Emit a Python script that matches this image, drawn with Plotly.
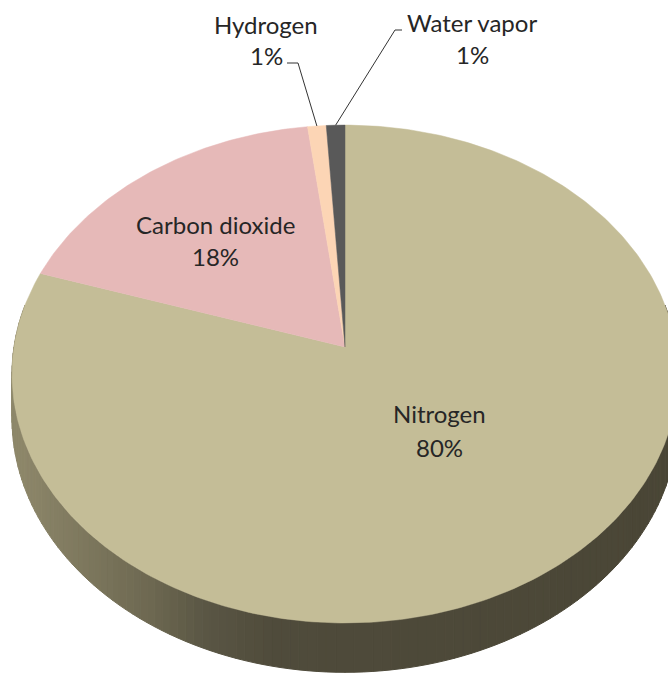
import numpy as np
import plotly.graph_objects as go

# ---- data -------------------------------------------------------------
gases = ["Nitrogen", "Carbon dioxide", "Hydrogen", "Water vapor"]
shares = [80, 18, 1, 1]
slice_colors = ["#C4BD97", "#E6B9B8", "#FCD5B5", "#595959"]

# ---- geometry of the tilted 3-D disc (page pixels) ---------------------
CX, CY = 345.0, 347.0      # projected centre of the top face
AX, BY = 331.0, 246.0      # horizontal radius / depth radius
K = 0.1086                 # perspective foreshortening of the far side
DEPTH = 44.0               # thickness of the disc

W, H = 668, 673


def project(phi, drop=0.0):
    """Angle measured clockwise from 12 o'clock -> page coordinates."""
    u = np.sin(phi)
    v = np.cos(phi)
    s = 1.0 / (1.0 + K * v)
    return CX + AX * u * s, CY - BY * v * s + drop * s


def hex_to_rgb(h):
    h = h.lstrip("#")
    return np.array([int(h[i:i + 2], 16) for i in (0, 2, 4)], float)


# shading of the rim, light on the left, dark on the right
RIM_STOPS = [(20, "#8d876a"), (150, "#6d6851"), (205, "#5a5644"),
             (275, "#4f4b3b"), (668, "#4a4636")]


def rim_color(x):
    xs = [p for p, _ in RIM_STOPS]
    cs = [hex_to_rgb(c) for _, c in RIM_STOPS]
    rgb = [np.interp(x, xs, [c[i] for c in cs]) for i in range(3)]
    return "rgb(%d,%d,%d)" % tuple(int(round(c)) for c in rgb)


fig = go.Figure()

# ---- rim (front side wall) -------------------------------------------
n_strips = 140
edges = np.linspace(np.radians(80), np.radians(280), n_strips + 1)
for a0, a1 in zip(edges[:-1], edges[1:]):
    x0, y0 = project(a0)
    x1, y1 = project(a1)
    x0b, y0b = project(a0, DEPTH)
    x1b, y1b = project(a1, DEPTH)
    col = rim_color((x0 + x1) / 2)
    fig.add_trace(go.Scatter(
        x=[x0, x1, x1b, x0b, x0], y=[y0, y1, y1b, y0b, y0],
        mode="lines", fill="toself", fillcolor=col,
        line=dict(color=col, width=1), hoverinfo="skip", showlegend=False))

# ---- top face slices ---------------------------------------------------
total = float(sum(shares))
cum = np.concatenate([[0.0], np.cumsum(shares)]) / total
for i, (name, col) in enumerate(zip(gases, slice_colors)):
    a0, a1 = 2 * np.pi * cum[i], 2 * np.pi * cum[i + 1]
    n = max(4, int(400 * (cum[i + 1] - cum[i])))
    ang = np.linspace(a0, a1, n)
    xs, ys = project(ang)
    px, py = project(0.0 * ang[:1])
    x = np.concatenate([[CX], xs, [CX]])
    y = np.concatenate([[CY], ys, [CY]])
    fig.add_trace(go.Scatter(
        x=x, y=y, mode="lines", fill="toself", fillcolor=col,
        line=dict(color=col, width=0.5), name=name,
        hoverinfo="name", showlegend=False))

# ---- data labels ------------------------------------------------------
LABEL_FONT = dict(family="Lato, Open Sans, sans-serif", size=24, color="#262626")
# (x, y of name line, y of value line)
label_pos = {
    "Nitrogen": (439, 413, 447),
    "Carbon dioxide": (215, 224, 256),
    "Hydrogen": (266, 24, 55),
    "Water vapor": (472, 22, 54),
}
# leader lines for the slim slices: label corner, elbow
leaders = {
    "Hydrogen": [(287, 63), (298, 63)],
    "Water vapor": [(402, 30), (395, 30)],
}

for i, name in enumerate(gases):
    lx, ly1, ly2 = label_pos[name]
    fig.add_annotation(x=lx, y=ly1, text=name, showarrow=False,
                       font=LABEL_FONT, xanchor="center", yanchor="middle")
    fig.add_annotation(x=lx, y=ly2, text="%d%%" % shares[i], showarrow=False,
                       font=LABEL_FONT, xanchor="center", yanchor="middle")
    if name in leaders:
        mid = np.pi * (cum[i] + cum[i + 1])
        ex, ey = project(mid)
        pts = leaders[name] + [(ex, ey)]
        fig.add_trace(go.Scatter(
            x=[p[0] for p in pts], y=[p[1] for p in pts], mode="lines",
            line=dict(color="#333333", width=1), hoverinfo="skip",
            showlegend=False))

fig.update_layout(
    width=W, height=H, autosize=False,
    margin=dict(l=0, r=0, t=0, b=0),
    paper_bgcolor="white", plot_bgcolor="white",
    xaxis=dict(range=[0, W], visible=False, fixedrange=True),
    yaxis=dict(range=[H, 0], visible=False, fixedrange=True),
    showlegend=False,
)

fig.write_html("out.html")
